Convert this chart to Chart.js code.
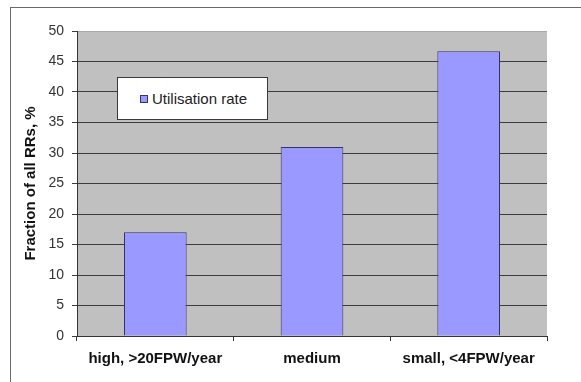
<!DOCTYPE html>
<html>
<head>
<meta charset="utf-8">
<script src="https://cdn.jsdelivr.net/npm/chart.js@4/dist/chart.umd.min.js"></script>
<style>
  html, body { margin: 0; padding: 0; background: #fff; overflow: hidden; }
  #wrap { position: relative; width: 581px; height: 382px; overflow: hidden; }
  #frame { position: absolute; left: 10px; top: 7px; right: 0; bottom: 0;
           border-top: 1px solid #6a6a6a; border-left: 1px solid #6a6a6a; }
  #chart { position: absolute; left: 0; top: 0; }
  #legend { position: absolute; left: 117px; top: 77px; width: 151px; height: 43px;
            box-sizing: border-box; background: #fff; border: 1px solid #3a3a3a;
            font: 15px "Liberation Sans", Arial, sans-serif; color: #222;
            display: flex; align-items: center; }
  #legend .swatch { display: inline-block; width: 8px; height: 8px; box-sizing: border-box;
                    background: #9999ff; border: 1px solid #333366;
                    margin-left: 22px; margin-right: 4px; }
</style>
</head>
<body>
<div id="wrap">
  <div id="frame"></div>
  <canvas id="chart" width="581" height="382"></canvas>
  <div id="legend"></div>
</div>
<script>
// Size classes of RRs and the share of each
const categories = ['high, >20FPW/year', 'medium', 'small, <4FPW/year'];
const utilisationRate = [17, 31, 46.7];
const seriesLabel = 'Utilisation rate';
const yAxisTitle = 'Fraction of all RRs, %';

// Grey plot-area background behind the bars and grid
const plotBackground = {
  id: 'plotBackground',
  beforeDraw(chart) {
    const { ctx, chartArea: a } = chart;
    ctx.save();
    ctx.fillStyle = '#c0c0c0';
    ctx.fillRect(a.left, a.top, a.right - a.left, a.bottom - a.top);
    ctx.restore();
  }
};

Chart.defaults.font.family = '"Liberation Sans", Arial, sans-serif';

const chart = new Chart(document.getElementById('chart'), {
  type: 'bar',
  data: {
    labels: categories,
    datasets: [{
      label: seriesLabel,
      data: utilisationRate,
      backgroundColor: '#9999ff',
      borderColor: '#333366',
      borderWidth: 1,
      categoryPercentage: 1,
      barPercentage: 0.4
    }]
  },
  options: {
    responsive: false,
    animation: false,
    layout: { padding: { top: 31, right: 34, left: 0, bottom: 0 } },
    plugins: {
      legend: { display: false },
      tooltip: { enabled: false }
    },
    scales: {
      x: {
        afterFit(scale) { scale.height = 46; },
        border: { color: '#333', width: 1 },
        grid: {
          offset: true,
          drawOnChartArea: false,
          drawTicks: true,
          tickLength: 5,
          color: '#333'
        },
        ticks: {
          padding: 9,
          color: '#111',
          font: { size: 15, weight: 'bold' },
          maxRotation: 0
        }
      },
      y: {
        min: 0,
        max: 50,
        afterFit(scale) { scale.width = 77; },
        border: { color: '#333', width: 1 },
        grid: {
          tickLength: 5,
          color: (c) => (c.tick && c.tick.value === 50 ? '#a8a8a8' : '#3c3c3c'),
          tickColor: '#3c3c3c'
        },
        ticks: {
          stepSize: 5,
          padding: 8,
          color: '#333',
          font: { size: 14 }
        },
        title: {
          display: true,
          text: yAxisTitle,
          color: '#111',
          font: { size: 15, weight: 'bold' },
          padding: { top: 22, bottom: 0 }
        }
      }
    }
  },
  plugins: [plotBackground]
});

// Boxed legend inside the plot area
const legend = document.getElementById('legend');
chart.data.datasets.forEach((ds) => {
  const sw = document.createElement('span');
  sw.className = 'swatch';
  sw.style.background = ds.backgroundColor;
  sw.style.borderColor = ds.borderColor;
  const tx = document.createElement('span');
  tx.textContent = ds.label;
  legend.appendChild(sw);
  legend.appendChild(tx);
});
</script>
</body>
</html>
